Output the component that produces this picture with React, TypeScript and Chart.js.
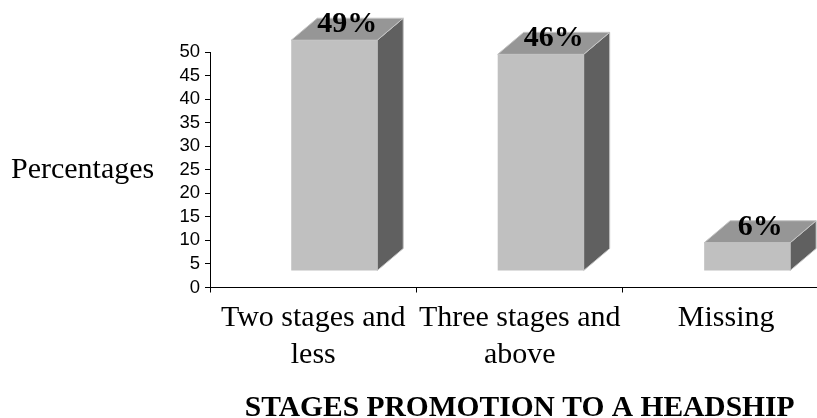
import { useEffect, useRef } from 'react';
import { Chart, registerables } from 'chart.js';

Chart.register(...registerables);

// Categories (multi-line labels) and their percentages
const categories: string[][] = [
  ['Two stages and', 'less'],
  ['Three stages and', 'above'],
  ['Missing'],
];
const percentages: number[] = [49, 46, 6];

// Value axis
const yMin = 0;
const yMax = 50;
const yStep = 5;

const yAxisTitle = 'Percentages';
const xAxisTitle = 'STAGES PROMOTION TO A HEADSHIP';

const SERIF = "'Liberation Serif', 'Times New Roman', serif";
const SANS = "'Liberation Sans', Arial, sans-serif";

// 3D prism look
const FRONT = '#c0c0c0';
const TOP = '#969696';
const SIDE = '#606060';
const EDGE = '#c4c4c4';
const SHIFT_X = 21; // front face offset inside the floor depth
const SHIFT_Y = -16.5;
const DEPTH_X = 26;
const DEPTH_Y = -22;

const prismPlugin = {
  id: 'prismBars',
  afterDatasetsDraw(chart: any) {
    const { ctx } = chart;
    const meta = chart.getDatasetMeta(0);
    ctx.save();
    const poly = (pts: number[][], fill: string) => {
      ctx.beginPath();
      ctx.moveTo(pts[0][0], pts[0][1]);
      for (let k = 1; k < pts.length; k++) ctx.lineTo(pts[k][0], pts[k][1]);
      ctx.closePath();
      ctx.fillStyle = fill;
      ctx.fill();
      ctx.lineWidth = 1;
      ctx.strokeStyle = EDGE;
      ctx.stroke();
    };
    meta.data.forEach((el: any, i: number) => {
      const { x, y, base, width } = el.getProps(['x', 'y', 'base', 'width'], true);
      const l = x - width / 2 + SHIFT_X;
      const r = x + width / 2 + SHIFT_X;
      const t = y + SHIFT_Y;
      const b = base + SHIFT_Y;
      poly([[r, t], [r + DEPTH_X, t + DEPTH_Y], [r + DEPTH_X, b + DEPTH_Y], [r, b]], SIDE);
      poly([[l, t], [l + DEPTH_X, t + DEPTH_Y], [r + DEPTH_X, t + DEPTH_Y], [r, t]], TOP);
      ctx.fillStyle = FRONT;
      ctx.fillRect(l, t, r - l, b - t);

      ctx.fillStyle = '#000';
      ctx.font = `bold 30px ${SERIF}`;
      ctx.textAlign = 'center';
      ctx.textBaseline = 'alphabetic';
      ctx.fillText(`${percentages[i]}%`, x + SHIFT_X + DEPTH_X / 2, t - 8);
    });
    ctx.restore();
  },
  afterDraw(chart: any) {
    const { ctx, scales } = chart;
    ctx.save();
    ctx.fillStyle = '#000';
    ctx.textBaseline = 'alphabetic';

    ctx.font = `30px ${SERIF}`;
    ctx.textAlign = 'left';
    ctx.fillText(yAxisTitle, 11, 178);

    ctx.font = `bold 29.5px ${SERIF}`;
    ctx.textAlign = 'center';
    const mid = scales.x.getPixelForValue((categories.length - 1) / 2);
    ctx.fillText(xAxisTitle, mid, 416);
    ctx.restore();
  },
};

export default function App() {
  const canvasRef = useRef<HTMLCanvasElement | null>(null);

  useEffect(() => {
    const canvas = canvasRef.current;
    if (!canvas) return;
    const chart = new Chart(canvas, {
      type: 'bar',
      data: {
        datasets: [
          {
            data: percentages.map((v, i) => ({ x: i, y: v })),
            backgroundColor: 'rgba(0,0,0,0)',
            borderWidth: 0,
            categoryPercentage: 1,
            barPercentage: 0.833,
          },
        ],
      },
      options: {
        animation: false,
        responsive: true,
        maintainAspectRatio: false,
        devicePixelRatio: 1,
        layout: { padding: { top: 52, left: 0, right: 0, bottom: 0 } },
        plugins: {
          legend: { display: false },
          tooltip: { enabled: false },
        },
        scales: {
          x: {
            type: 'linear',
            offset: false,
            min: -0.5,
            max: 2.44,
            afterBuildTicks: (scale: any) => {
              const vals: number[] = [];
              for (let v = -0.5; v <= categories.length - 0.5; v += 0.5) {
                if (v <= scale.max) vals.push(v);
              }
              scale.ticks = vals.map((v) => ({ value: v }));
            },
            afterFit: (scale: any) => {
              scale.height = 130.5;
            },
            border: { display: true, color: '#000', width: 1 },
            grid: {
              offset: false,
              drawOnChartArea: false,
              drawTicks: true,
              tickLength: 5,
              tickColor: (c: any) =>
                c.tick && Number.isInteger(c.tick.value) ? 'rgba(0,0,0,0)' : '#000',
            },
            ticks: {
              autoSkip: false,
              maxRotation: 0,
              minRotation: 0,
              padding: 7,
              color: '#000',
              font: { family: SERIF, size: 30, lineHeight: 1.24 },
              callback: (value: any) => {
                const v = Number(value);
                return Number.isInteger(v) && categories[v] ? categories[v] : '';
              },
            },
          },
          y: {
            min: yMin,
            max: yMax,
            afterFit: (scale: any) => {
              scale.width = 210;
            },
            border: { display: true, color: '#000', width: 1 },
            grid: { drawOnChartArea: false, drawTicks: true, tickLength: 5, tickColor: '#000' },
            ticks: {
              stepSize: yStep,
              autoSkip: false,
              padding: 5,
              color: '#000',
              font: { family: SANS, size: 18.5, lineHeight: 1 },
            },
          },
        },
      },
      plugins: [prismPlugin],
    });
    return () => chart.destroy();
  }, []);

  return (
    <div style={{ position: 'fixed', left: 0, top: 0, width: 817, height: 418, background: '#fff' }}>
      <canvas ref={canvasRef} />
    </div>
  );
}
